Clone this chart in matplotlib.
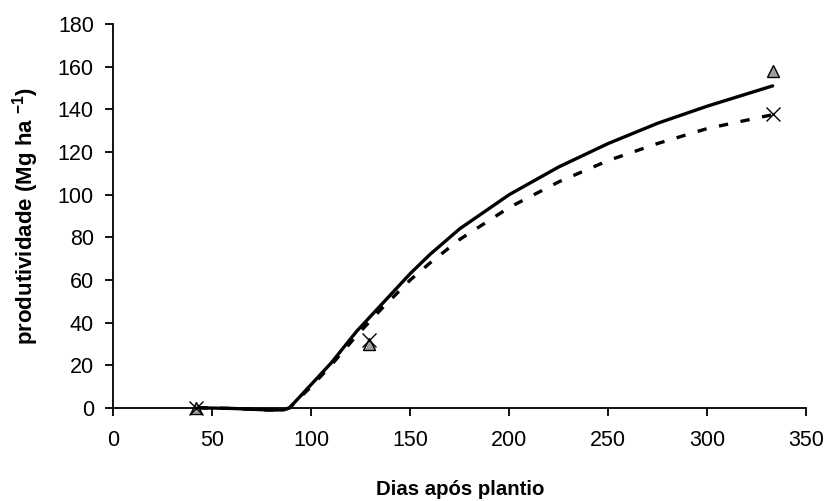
import matplotlib
matplotlib.use('Agg')
import matplotlib.pyplot as plt

plt.rcParams['font.family'] = ['Liberation Sans', 'DejaVu Sans']
plt.rcParams['mathtext.fontset'] = 'custom'
plt.rcParams['mathtext.rm'] = 'Liberation Sans:bold'
plt.rcParams['mathtext.it'] = 'Liberation Sans:bold'
plt.rcParams['mathtext.bf'] = 'Liberation Sans:bold'

# dados
dias_obs = [42, 129, 333]
prod_tri = [0, 30, 158]
prod_x = [0, 32, 138]

dias_fit = [43, 60, 78, 86, 89, 95, 100, 110, 123, 135, 150, 160, 175, 200, 225, 250, 275, 300, 333]
prod_cheia = [0, -0.3, -1, -1, 0, 6, 11, 21, 36, 48, 63, 72, 84, 100, 113, 124, 133.5, 141.5, 151]
prod_tracejada = [0, -0.3, -1, -1, 0, 5.5, 10, 20, 34, 46, 60, 68, 79, 94, 106, 116, 124, 131, 137.5]

fig = plt.figure(figsize=(8.27, 5.01), dpi=100)
ax = fig.add_axes([0.137, 0.186, 0.838, 0.766])

ax.plot(dias_fit, prod_cheia, color='black', lw=2.4, solid_capstyle='round', clip_on=False)
ax.plot(dias_fit, prod_tracejada, color='black', lw=2.4, linestyle=(0, (2.8, 3.8)), clip_on=False)
ax.plot(dias_obs, prod_tri, linestyle='none', marker='^', markersize=8,
        markerfacecolor='#a0a0a0', markeredgecolor='black', markeredgewidth=1, clip_on=False)
ax.plot(dias_obs, prod_x, linestyle='none', marker='x', markersize=10,
        color='black', markeredgewidth=1, clip_on=False)

ax.set_xlim(0, 350)
ax.set_ylim(0, 180)
ax.set_xticks(range(0, 351, 50))
ax.set_yticks(range(0, 181, 20))
ax.spines['top'].set_visible(False)
ax.spines['right'].set_visible(False)
ax.spines['left'].set_linewidth(1.3)
ax.spines['bottom'].set_linewidth(1.3)
ax.tick_params(direction='out', length=6, width=1.3, labelsize=15.5)
ax.tick_params(axis='x', pad=10)
ax.tick_params(axis='y', pad=8)

ax.set_xlabel('Dias após plantio', fontsize=14.7, fontweight='bold', labelpad=21)
ax.set_ylabel(r'produtividade (Mg ha $^{-1}$)', fontsize=16, fontweight='bold', labelpad=12)

fig.savefig('out.png', dpi=100)
